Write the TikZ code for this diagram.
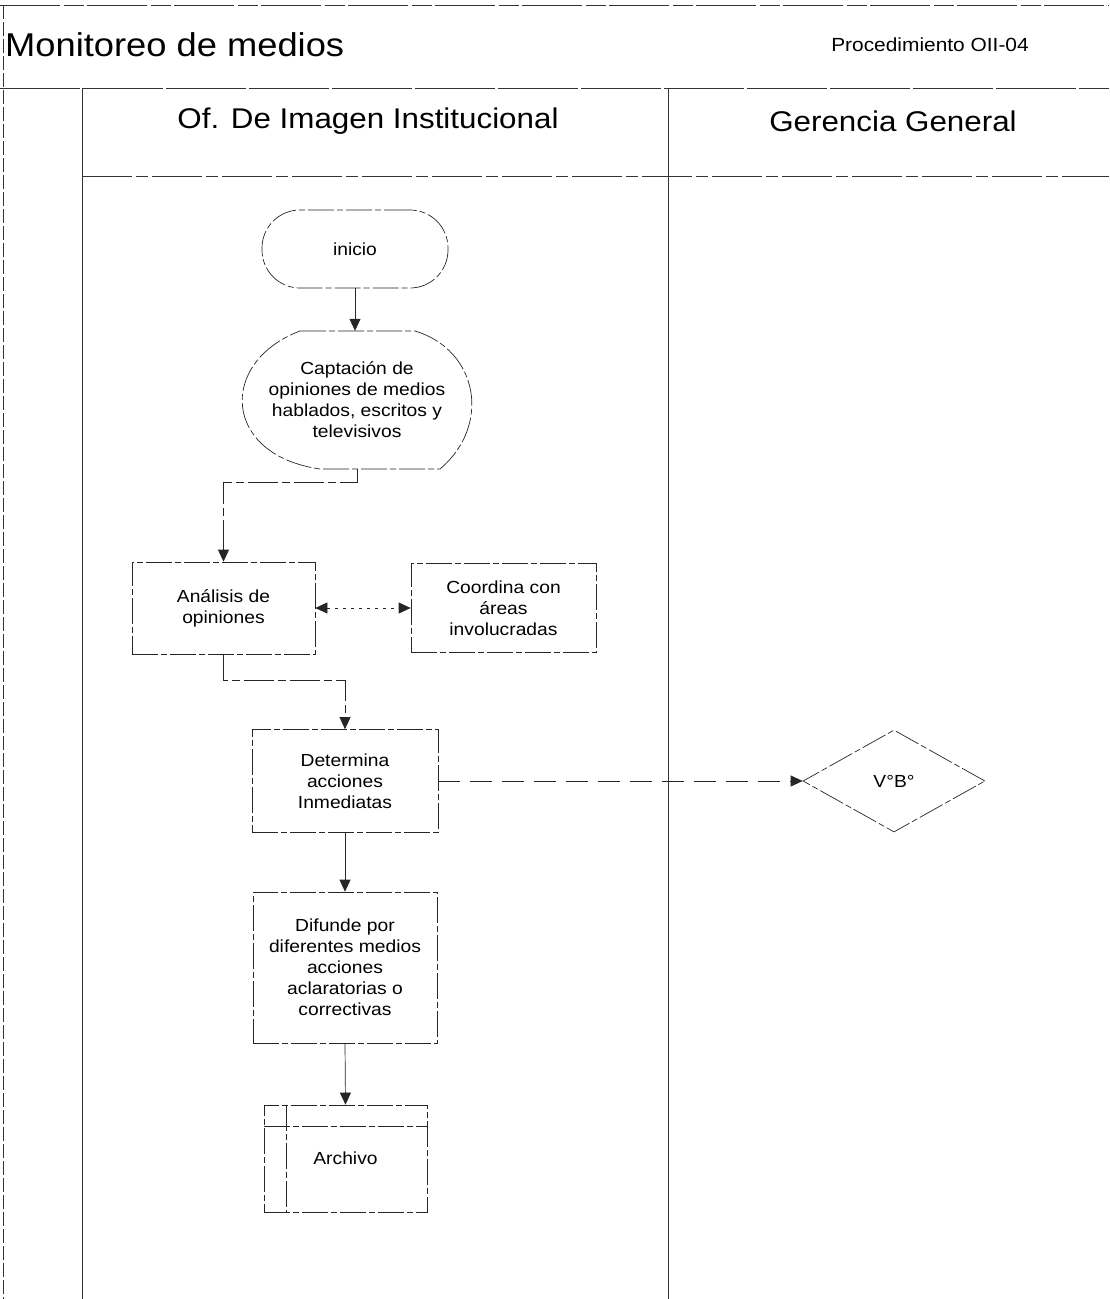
\documentclass[tikz,border=0pt]{standalone}
\usepackage{fontspec}
\setmainfont{Liberation Sans}[FakeStretch=1.1]
\usetikzlibrary{arrows.meta,shapes.geometric}

\newcommand\boxfont{\fontsize{17.5}{21}\selectfont}

\begin{document}
\begin{tikzpicture}[x=1pt,y=-1pt,
  ln/.style={draw=black!85, line width=0.7pt},
  boxln/.style={ln, dash pattern=on 26pt off 3pt on 6pt off 3pt},
  proc/.style={rectangle, boxln, align=center, font=\boxfont, inner sep=2pt},
  term/.style={rectangle, boxln, rounded corners=38pt, font=\boxfont},
  tip/.tip={Triangle[length=12pt,width=11pt]},
  arr/.style={ln, -tip},
  arrboth/.style={ln, tip-tip},
  lane/.style={draw=black!80, line width=0.8pt},
  lanehead/.style={font=\fontsize{28.5}{32}\selectfont}
]
\useasboundingbox (0,0) rectangle (1109,1299);

% frame and swimlanes
\draw[lane, dash pattern=on 60pt off 4pt on 20pt off 3pt] (0,5) -- (1109,5);
\draw[lane, dash pattern=on 14pt off 3pt] (3,5) -- (3,1299);
\draw[lane, dash pattern=on 80pt off 3pt] (0,88) -- (1109,88);
\draw[lane] (82,88) -- (82,1299);
\draw[lane] (668,88) -- (668,1299);
\draw[lane, dash pattern=on 50pt off 4pt on 12pt off 4pt] (82,176) -- (1109,176);

% headings
\node[anchor=west, font=\fontsize{33}{36}\selectfont, inner sep=0pt] (title) at (5,45) {Monitoreo de medios};
\node[font=\fontsize{19}{22}\selectfont, inner sep=0pt] (code) at (930,45) {Procedimiento OII-04};
\node[lanehead] (lane1) at (368,121) {Of. De Imagen Institucional};
\node[lanehead] (lane2) at (893,121) {Gerencia General};

% flow nodes
\node[term, minimum width=186pt, minimum height=78pt] (ini) at (355,249) {inicio};

\node[font=\boxfont, align=center, minimum width=242pt, minimum height=138pt, inner sep=0pt] (cap) at (357,400)
  {Captación de\\opiniones de medios\\hablados, escritos y\\televisivos};
\draw[boxln] (300,331) -- (415,331) .. controls (478,350) and (492,425) .. (440,469)
  -- (320,469) .. controls (222,455) and (218,362) .. (300,331);

\node[proc, minimum width=183pt, minimum height=92pt] (ana) at (223.5,608) {Análisis de\\opiniones};
\node[proc, minimum width=185pt, minimum height=89pt] (coo) at (503.5,608) {Coordina con\\áreas\\involucradas};
\node[proc, minimum width=186pt, minimum height=103pt] (det) at (345,781) {Determina\\acciones\\Inmediatas};
\node[diamond, boxln, minimum width=182pt, minimum height=102pt, inner sep=0pt, font=\boxfont] (vb) at (894,781) {V°B°};
\node[proc, minimum width=184pt, minimum height=151pt] (dif) at (345,967.5)
  {Difunde por\\diferentes medios\\acciones\\aclaratorias o\\correctivas};
\node[proc, minimum width=163pt, minimum height=107pt] (arc) at (345.5,1158.5) {Archivo};
\draw[boxln] ([yshift=-22pt]arc.north west) -- ([yshift=-22pt]arc.north east);
\draw[boxln] ([xshift=23pt]arc.north west) -- ([xshift=23pt]arc.south west);

% connectors
\draw[arr] (ini.south) -- (ini.south |- cap.north);
\draw[arr, dash pattern=on 30pt off 4pt on 8pt off 4pt] (cap.south) -- ++(0,13) -| (ana.north);
\draw[arrboth, dash pattern=on 3pt off 5pt] (ana.east) -- (coo.west);
\draw[arr, dash pattern=on 30pt off 4pt on 8pt off 4pt] (ana.south) -- ++(0,26) -| (det.north);
\draw[arr, dash pattern=on 22pt off 10pt] (det.east) -- (vb.west);
\draw[arr] (det.south) -- (dif.north);
\draw[arr] (dif.south) -- (arc.north);
\end{tikzpicture}
\end{document}
